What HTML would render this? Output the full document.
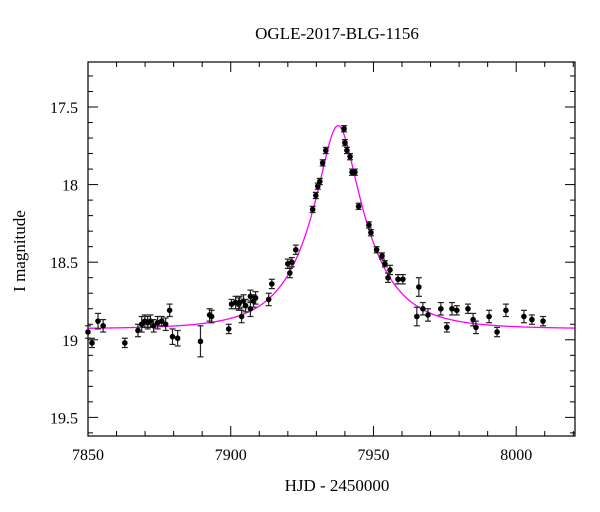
<!DOCTYPE html>
<html><head><meta charset="utf-8"><style>
body{margin:0;background:#fff;}
svg{display:block;font-family:"Liberation Serif",serif;}
</style></head><body>
<svg id="c" width="600" height="512"></svg>
<script>
const times=[7850,7851.4,7853.5,7855.3,7862.9,7867.5,7868.8,7869.9,7870.9,7871.9,7873,7874.4,7875.8,7877.2,7878.6,7879.6,7881.4,7889.4,7892.6,7893.3,7899.3,7900.3,7901.7,7902.8,7903.8,7903.1,7904.5,7905.2,7906.9,7906.9,7908,7908.7,7913.3,7914.4,7920,7920.7,7921.4,7922.8,7928.7,7929.8,7930.5,7931.2,7932.2,7933.3,
7939.7,7940.0,7940.7,7941.8,7942.5,7943.5,7944.8,7948.4,7949.1,7951.1,7953.0,7954.0,7955.8,7955.1,7958.6,7960.3,7965.9,7965.2,7967.3,7969.1,7973.6,7975.7,7977.5,7979.2,7983.1,7984.9,7985.9,7990.5,7993.3,7996.4,8002.7,8005.5,8009.4];
const mags=[18.95,19.02,18.88,18.91,19.02,18.94,18.90,18.88,18.89,18.88,18.91,18.89,18.88,18.90,18.81,18.98,18.99,19.01,18.84,18.85,18.93,18.77,18.76,18.77,18.85,18.76,18.75,18.78,18.72,18.80,18.75,18.73,18.74,18.64,18.51,18.57,18.50,18.42,18.16,18.07,18.01,17.98,17.86,17.78,
17.64,17.73,17.78,17.82,17.92,17.92,18.14,18.26,18.31,18.42,18.46,18.51,18.55,18.60,18.61,18.61,18.66,18.85,18.80,18.84,18.80,18.92,18.80,18.81,18.80,18.87,18.92,18.85,18.95,18.81,18.85,18.87,18.88];
const errs=[0.04,0.03,0.05,0.04,0.03,0.04,0.05,0.04,0.04,0.04,0.04,0.04,0.03,0.04,0.04,0.05,0.05,0.1,0.04,0.04,0.03,0.03,0.04,0.04,0.04,0.04,0.04,0.04,0.04,0.05,0.04,0.04,0.04,0.03,0.03,0.03,0.03,0.03,0.02,0.02,0.02,0.02,0.02,0.02,
0.02,0.02,0.02,0.02,0.02,0.02,0.02,0.02,0.02,0.02,0.02,0.02,0.03,0.03,0.03,0.03,0.06,0.06,0.04,0.04,0.04,0.03,0.04,0.03,0.03,0.04,0.04,0.04,0.03,0.04,0.04,0.03,0.03];
const xTicks=[7850,7900,7950,8000];
const yTicks=[17.5,18,18.5,19,19.5];
const model={t0:7937.6,u0:0.31,tE:19.5,Ibase:18.93};
const L=88,R=575,T=62,B=436,X0=7850,X1=8020.6,Y0=17.21,Y1=19.62;
const sx=t=>L+(t-X0)/(X1-X0)*(R-L);
const sy=m=>T+(m-Y0)/(Y1-Y0)*(B-T);
const svg=document.getElementById('c');
const NS='http://www.w3.org/2000/svg';
function mk(tag,attrs,parent){const e=document.createElementNS(NS,tag);for(const k in attrs)e.setAttribute(k,attrs[k]);(parent||svg).appendChild(e);return e;}
const fr=mk('rect',{x:L,y:T,width:R-L,height:B-T,fill:'none',stroke:'#000','stroke-width':1.2});


const tg=mk('g',{stroke:'#000','stroke-width':1});


for(let t=7850;t<=8020;t+=10){const x=sx(t);const maj=(t%50===0);const len=maj?10:5;
 mk('line',{x1:x,y1:B,x2:x,y2:B-len},tg);mk('line',{x1:x,y1:T,x2:x,y2:T+len},tg);}
for(let m=17.3;m<=19.61;m+=0.1){const mm=Math.round(m*10)/10;const y=sy(mm);const maj=Math.abs(mm*2-Math.round(mm*2))<1e-6;const len=maj?10:5;
 mk('line',{x1:L,y1:y,x2:L+len,y2:y},tg);mk('line',{x1:R,y1:y,x2:R-len,y2:y},tg);}
xTicks.forEach(t=>{const e=mk('text',{x:sx(t),y:B+24,'text-anchor':'middle','font-size':16});e.textContent=t;
 
 });
yTicks.forEach(m=>{const e=mk('text',{x:L-10,y:sy(m)+6,'text-anchor':'end','font-size':16});e.textContent=m;
 
 });
function magAt(t){const tau=(t-model.t0)/model.tE;const u=Math.sqrt(model.u0*model.u0+tau*tau);const A=(u*u+2)/(u*Math.sqrt(u*u+4));return model.Ibase-2.5*Math.log10(A);}
let d='';for(let t=X0;t<=X1;t+=0.25){d+=(d?'L':'M')+sx(t).toFixed(2)+','+sy(magAt(t)).toFixed(2);}
const cv=mk('path',{d:d,fill:'none',stroke:'#ff00ff','stroke-width':1.3});


const pg=mk('g',{});


times.forEach((t,i)=>{const x=sx(t),y=sy(mags[i]),e1=sy(mags[i]-errs[i]),e2=sy(mags[i]+errs[i]);
 const g=mk('g',{stroke:'#222','stroke-width':1.2},pg);
 
 
 mk('line',{x1:x,y1:e1,x2:x,y2:e2},g);
 mk('line',{x1:x-3,y1:e1,x2:x+3,y2:e1},g);
 mk('line',{x1:x-3,y1:e2,x2:x+3,y2:e2},g);
 mk('circle',{cx:x,cy:y,r:2.8,fill:'#000',stroke:'none'},g);});
</script>
<div style="position:absolute;left:0;top:0;width:600px;height:512px;pointer-events:none;font-family:'Liberation Serif',serif;">
<div style="position:absolute;left:232px;top:24px;width:210px;text-align:center;font-size:17px;">OGLE-2017-BLG-1156</div>
<div style="position:absolute;left:232px;top:476px;width:210px;text-align:center;font-size:17px;">HJD - 2450000</div>
<div style="position:absolute;left:-40px;top:241px;width:120px;text-align:center;font-size:17px;transform:rotate(-90deg);">I magnitude</div>
</div>
</body></html>
